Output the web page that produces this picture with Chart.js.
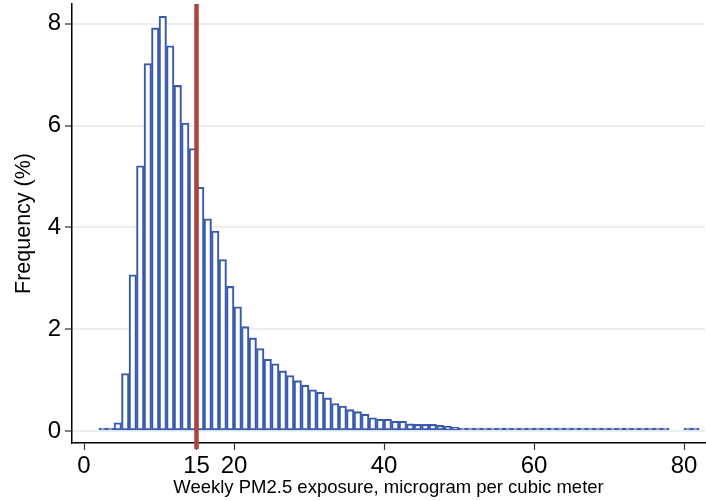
<!DOCTYPE html>
<html>
<head>
<meta charset="utf-8">
<script src="https://cdn.jsdelivr.net/npm/chart.js@4/dist/chart.umd.min.js"></script>
<style>
  html, body { margin: 0; padding: 0; background: #fff; }
  #wrap { width: 706px; height: 501px; }
</style>
</head>
<body>
<div id="wrap"><canvas id="hist"></canvas></div>
<script>
// bin left edges (width 1) and frequency in percent
const binStarts = [2, 3, 4, 5, 6, 7, 8, 9, 10, 11, 12, 13, 14, 15, 16, 17, 18, 19, 20, 21,
    22, 23, 24, 25, 26, 27, 28, 29, 30, 31, 32, 33, 34, 35, 36, 37, 38, 39, 40, 41,
    42, 43, 44, 45, 46, 47, 48, 49, 50, 51, 52, 53, 54, 55, 56, 57, 58, 59, 60, 61,
    62, 63, 64, 65, 66, 67, 68, 69, 70, 71, 72, 73, 74, 75, 76, 77, 80, 81];
const freqPct = [0.02, 0.02, 0.16, 1.13, 3.07, 5.21, 7.22, 7.92, 8.15, 7.57, 6.79, 6.05, 5.55, 4.79, 4.17, 3.93, 3.37, 2.84, 2.44, 2.05,
    1.83, 1.62, 1.41, 1.32, 1.18, 1.09, 0.99, 0.90, 0.81, 0.76, 0.65, 0.54, 0.49, 0.42, 0.38, 0.33, 0.26, 0.23, 0.23, 0.19,
    0.19, 0.14, 0.13, 0.13, 0.13, 0.11, 0.09, 0.07, 0.05, 0.04, 0.03, 0.04, 0.04, 0.04, 0.03, 0.04, 0.04, 0.03, 0.03, 0.03,
    0.03, 0.02, 0.02, 0.02, 0.02, 0.02, 0.02, 0.02, 0.02, 0.02, 0.02, 0.02, 0.02, 0.02, 0.02, 0.02, 0.02, 0.02];
const xTicks = [0, 15, 20, 40, 60, 80];
const yTicks = [0, 2, 4, 6, 8];
const cutoff = 15;

const blue = '#3a5aad';
const red = '#b0443a';
const font = "'Liberation Sans', Arial, sans-serif";

// red reference line, runs a bit past the x axis like the original
const cutoffLine = {
    id: 'cutoffLine',
    afterDatasetsDraw(chart) {
        const {ctx, chartArea, scales} = chart;
        const x = scales.x.getPixelForValue(cutoff);
        ctx.save();
        ctx.strokeStyle = red;
        ctx.lineWidth = 4.5;
        ctx.beginPath();
        ctx.moveTo(x, chartArea.top);
        ctx.lineTo(x, chartArea.bottom + 6);
        ctx.stroke();
        ctx.restore();
    }
};

new Chart(document.getElementById('hist'), {
    type: 'bar',
    data: {
        datasets: [{
            data: binStarts.map((b, i) => ({x: b + 0.5, y: freqPct[i]})),
            backgroundColor: '#ffffff',
            borderColor: blue,
            borderWidth: 2.1,
            minBarLength: 3,
            categoryPercentage: 1,
            barPercentage: 1,
            borderSkipped: false
        }]
    },
    options: {
        responsive: true,
        maintainAspectRatio: false,
        animation: false,
        events: [],
        layout: {padding: {top: 4, right: 1, left: 0, bottom: 0}},
        plugins: {legend: {display: false}, tooltip: {enabled: false}},
        scales: {
            x: {
                type: 'linear',
                offset: false,
                min: -1.6,
                max: 82.8,
                afterBuildTicks: s => { s.ticks = xTicks.map(v => ({value: v})); },
                afterFit: s => { s.height = 58; s.paddingLeft = 0; s.paddingRight = 0; },
                grid: {offset: false, drawOnChartArea: false, tickLength: 7, tickColor: '#333', tickWidth: 1.2},
                border: {color: '#000', width: 1.5},
                ticks: {color: '#000', font: {family: font, size: 24}, padding: 2, maxRotation: 0, autoSkip: false},
                title: {display: true, text: 'Weekly PM2.5 exposure, microgram per cubic meter',
                    color: '#000', font: {family: font, size: 18.5}, padding: {top: 0, bottom: 2}}
            },
            y: {
                min: -0.236,
                max: 8.39,
                afterBuildTicks: s => { s.ticks = yTicks.map(v => ({value: v})); },
                afterFit: s => { s.width = 72; s.paddingTop = 0; s.paddingBottom = 0; },
                grid: {color: '#eaf0f2', lineWidth: 2, tickLength: 7, tickColor: '#555', tickWidth: 1.5},
                border: {color: '#000', width: 1.5},
                ticks: {color: '#000', font: {family: font, size: 24}, padding: 4},
                title: {display: true, text: 'Frequency (%)', color: '#000',
                    font: {family: font, size: 21.5}, padding: {top: 11, bottom: 0}}
            }
        }
    },
    plugins: [cutoffLine]
});
</script>
</body>
</html>
